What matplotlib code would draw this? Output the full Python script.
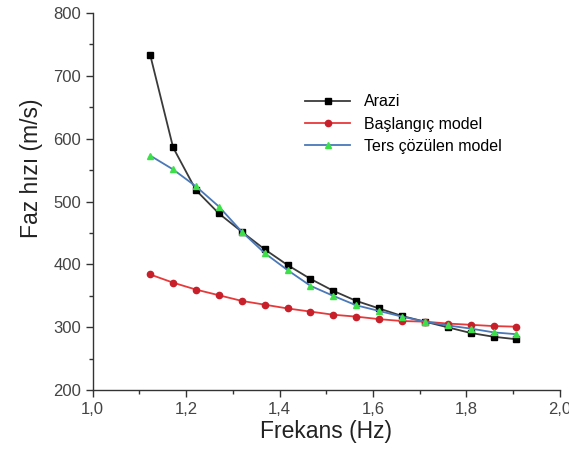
import matplotlib
matplotlib.use('Agg')
import matplotlib.pyplot as plt
from matplotlib.ticker import MultipleLocator, FuncFormatter

plt.rcParams['font.family'] = ['Liberation Sans', 'DejaVu Sans']

# Frequencies (Hz)
frekans = [1.123, 1.172, 1.221, 1.270, 1.319, 1.368, 1.417, 1.466, 1.515,
           1.564, 1.613, 1.662, 1.711, 1.760, 1.809, 1.858, 1.907]

# Phase velocity (m/s)
arazi = [733, 586, 518, 481, 452, 424, 399, 377, 358, 342, 330, 318,
         309, 300, 291, 285, 281]
baslangic = [384, 371, 360, 351, 342, 336, 330, 325, 320, 317, 313, 310,
             309, 306, 304, 302, 301]
ters = [573, 551, 524, 492, 452, 418, 391, 366, 350, 335, 326, 317,
        309, 303, 298, 292, 289]

fig = plt.figure(figsize=(5.69, 4.58), dpi=100)
ax = fig.add_axes([0.163, 0.148, 0.821, 0.824])

ax.plot(frekans, arazi, color='#3a3a3a', lw=1.3, marker='s', ms=4.5,
        mfc='black', mec='black', label='Arazi')
ax.plot(frekans, baslangic, color='#e8393a', lw=1.3, marker='o', ms=4.5,
        mfc='#c8202a', mec='#c8202a', label='Başlangıç model')
ax.plot(frekans, ters, color='#4a78b8', lw=1.3, marker='^', ms=4.5,
        mfc='#3ee04a', mec='#3ee04a', label='Ters çözülen model')

ax.set_xlim(1.0, 2.0)
ax.set_ylim(200, 800)
ax.xaxis.set_major_locator(MultipleLocator(0.2))
ax.xaxis.set_minor_locator(MultipleLocator(0.1))
ax.yaxis.set_major_locator(MultipleLocator(100))
ax.yaxis.set_minor_locator(MultipleLocator(50))
ax.xaxis.set_major_formatter(FuncFormatter(lambda v, p: f'{v:.1f}'.replace('.', ',')))

for s in ['top', 'right']:
    ax.spines[s].set_visible(False)
for s in ['left', 'bottom']:
    ax.spines[s].set_linewidth(1.0)
    ax.spines[s].set_color('#333333')

ax.tick_params(which='major', direction='out', length=5, width=1, colors='#333333',
               labelsize=12, labelcolor='#444444')
ax.tick_params(which='minor', direction='out', length=3, width=1, colors='#333333')

ax.set_xlabel('Frekans (Hz)', fontsize=16.5, color='#222222', labelpad=2)
ax.set_ylabel('Faz hızı (m/s)', fontsize=16.5, color='#222222')
ax.yaxis.set_label_coords(-0.107, 0.589)

leg = ax.legend(loc='upper left', bbox_to_anchor=(0.424, 0.822), frameon=False,
                fontsize=11.5, handlelength=2.8, labelspacing=0.45, handletextpad=0.9)

fig.savefig('out.png', dpi=100)
